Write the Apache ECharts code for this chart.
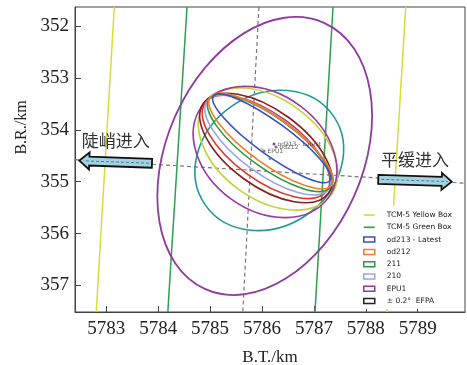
<!DOCTYPE html>
<html>
<head>
<meta charset="utf-8">
<script src="https://cdn.jsdelivr.net/npm/echarts@6/dist/echarts.min.js"></script>
<style>html,body{margin:0;padding:0;background:#fff}#main{width:467px;height:365px}</style>
</head>
<body>
<div id="main"></div>
<script>
// axis ranges and ticks
var xMin = 5782.397, xMax = 5789.911;
var yMin = 351.634, yMax = 357.511;
var xTicks = [5783, 5784, 5785, 5786, 5787, 5788, 5789];
var yTicks = [352, 353, 354, 355, 356, 357];

// TCM-5 box edges (top point, bottom point)
var yellowLeft = [[5783.154, 351.634], [5782.807, 357.511]];
var yellowRight = [[5788.769, 351.634], [5788.410, 357.511]];
var greenLeft = [[5784.555, 351.634], [5784.185, 357.511]];
var greenRight = [[5787.368, 351.634], [5787.021, 357.511]];

// dashed reference lines
var vertRef = [[5785.94, 351.634], [5785.63, 357.511]];
var horizRef = [[5782.40, 354.574], [5789.91, 355.03]];

// dispersion ellipses: centre x, centre y, semi-axis a, semi-axis b, tilt (deg)
var ellipseNames = ['EPU1', 'teal', 'lime', 'EPU1 inner', 'darkred', 'red', '210', '211', 'od212', 'od213 - Latest'];
var ellipseX = [5786.052, 5786.140, 5786.116, 5786.058, 5786.077, 5786.077, 5786.116, 5786.154, 5786.173, 5786.187];
var ellipseY = [354.505, 354.590, 354.370, 354.428, 354.351, 354.331, 354.293, 354.254, 354.216, 354.164];
var ellipseA = [2.809, 1.503, 1.503, 1.503, 1.484, 1.445, 1.445, 1.445, 1.445, 1.387];
var ellipseB = [1.888, 1.272, 0.963, 1.118, 0.732, 0.636, 0.559, 0.482, 0.443, 0.318];
var ellipseTilt = [-66, -35, 36, 36, 36, 36, 36, 36, 36, 36];
var ellipseColors = ['#8e3a9e', '#1f9a98', '#c8cf3c', '#9a3aa2', '#8a1e1e', '#e23232', '#9aa2e6', '#2e9a40', '#f07d28', '#3a4fbf'];

// trajectory solution points
var markNames = ['od213 - Latest', 'od212', 'EPU1', '', ''];
var markX = [5786.231, 5786.270, 5786.039, 5786.000, 5786.154];
var markY = [354.274, 354.331, 354.408, 354.370, 354.553];
var markColors = ['#333a66', '#7a4a30', '#8e3a9e', '#c8cf3c', '#1f9a98'];

// entry arrows: tail and head
var arrowTail = [[5783.88, 354.645], [5788.24, 354.954]];
var arrowHead = [[5782.48, 354.595], [5789.655, 355.0]];
var arrowText = ['陡峭进入', '平缓进入'];

var serif = "Liberation Serif";
var chart = echarts.init(document.getElementById('main'));

function lineSeries(name, pts, color, dashed) {
    return {
        name: name, type: 'line', data: pts, symbol: 'none', silent: true, z: dashed ? 1 : 2,
        lineStyle: {color: color, width: dashed ? 1.2 : 1.5, type: dashed ? [4, 3] : 'solid'}
    };
}

var series = [
    lineSeries('ref-v', vertRef, '#777', true),
    lineSeries('ref-h', horizRef, '#777', true),
    lineSeries('TCM-5 Yellow Box', yellowLeft, '#d6dc3c'),
    lineSeries('TCM-5 Yellow Box', yellowRight, '#d6dc3c'),
    lineSeries('TCM-5 Green Box', greenLeft, '#2f9e4e'),
    lineSeries('TCM-5 Green Box', greenRight, '#2f9e4e')
];

ellipseNames.forEach(function (nm, i) {
    var color = ellipseColors[i];
    series.push({
        name: nm, type: 'custom', z: 3, silent: true,
        encode: {x: 0, y: 1},
        data: [[ellipseX[i], ellipseY[i], ellipseA[i], ellipseB[i], ellipseTilt[i]]],
        renderItem: function (params, api) {
            var cx = api.value(0), cy = api.value(1);
            var c = api.coord([cx, cy]);
            var rx = Math.abs(api.coord([cx + api.value(2), cy])[0] - c[0]);
            var ry = Math.abs(api.coord([cx, cy + api.value(3)])[1] - c[1]);
            return {
                type: 'ellipse', x: c[0], y: c[1], rotation: -api.value(4) * Math.PI / 180,
                shape: {cx: 0, cy: 0, rx: rx, ry: ry},
                style: {fill: 'none', stroke: color, lineWidth: i === 0 ? 1.8 : 1.6}
            };
        }
    });
});

series.push({name: '± 0.2°  EFPA', type: 'custom', data: [], renderItem: function () { return null; }});

series.push({
    name: 'marks', type: 'scatter', z: 5, silent: true, symbolSize: 3,
    data: markX.map(function (x, i) {
        return {value: [x, markY[i]], itemStyle: {color: markColors[i]},
            label: {show: markNames[i] !== '', formatter: markNames[i]}};
    }),
    label: {position: 'right', distance: 2, fontSize: 6, fontFamily: 'DejaVu Sans', color: '#333'}
});

series.push({
    name: 'arrows', type: 'custom', z: 6, silent: true, clip: false,
    encode: {x: 0, y: 1},
    data: arrowTail.map(function (t, i) { return [t[0], t[1], arrowHead[i][0], arrowHead[i][1]]; }),
    renderItem: function (params, api) {
        var p0 = api.coord([api.value(0), api.value(1)]);
        var p1 = api.coord([api.value(2), api.value(3)]);
        var dx = p1[0] - p0[0], dy = p1[1] - p0[1];
        var len = Math.sqrt(dx * dx + dy * dy);
        var ux = dx / len, uy = dy / len, nx = -uy, ny = ux;
        var bh = 4.5, hh = 8.5, hl = 10;
        function pt(s, t) { return [p0[0] + ux * s + nx * t, p0[1] + uy * s + ny * t]; }
        var pts = [pt(0, -bh), pt(len - hl, -bh), pt(len - hl, -hh), pt(len, 0),
                   pt(len - hl, hh), pt(len - hl, bh), pt(0, bh)];
        var m = pt(len / 2, 0);
        return {
            type: 'group',
            children: [
                {type: 'polygon', shape: {points: pts},
                 style: {fill: '#a3d3e0', stroke: '#111', lineWidth: 1.8}},
                {type: 'line', shape: {x1: p0[0] + ux * 3, y1: p0[1] + uy * 3, x2: p0[0] + ux * (len - 4), y2: p0[1] + uy * (len - 4)},
                 style: {stroke: '#4a7a9a', lineWidth: 1, lineDash: [3, 2]}},
                {type: 'text', x: m[0], y: m[1] - 21,
                 style: {text: arrowText[params.dataIndex], fill: '#333', fontSize: 17,
                         fontFamily: 'Noto Sans CJK SC', align: 'center', verticalAlign: 'middle'}}
            ]
        };
    }
});

function legendLine(name, color) {
    return {name: name, icon: 'path://M0,0H20V3H0Z', itemStyle: {color: color, borderWidth: 0}};
}
function legendRect(name, color) {
    return {name: name, icon: 'rect', itemStyle: {color: '#fff', borderColor: color, borderWidth: 1.5}};
}

chart.setOption({
    animation: false,
    textStyle: {fontFamily: serif},
    grid: {left: 75, right: 2, top: 7, bottom: 53, show: true, borderColor: '#444', borderWidth: 1,
           containLabel: false, outerBoundsMode: 'none'},
    legend: {
        orient: 'vertical', left: 358, top: 206, backgroundColor: '#fff', padding: [5, 4, 4, 5],
        itemWidth: 11, itemHeight: 5, itemGap: 4.3, selectedMode: false,
        textStyle: {fontFamily: 'DejaVu Sans', fontSize: 7.5, color: '#222', padding: [0, 0, 0, 7]},
        data: [
            legendLine('TCM-5 Yellow Box', '#d6dc3c'),
            legendLine('TCM-5 Green Box', '#2f9e4e'),
            legendRect('od213 - Latest', '#3a4fbf'),
            legendRect('od212', '#f07d28'),
            legendRect('211', '#2e9a40'),
            legendRect('210', '#9aa2e6'),
            legendRect('EPU1', '#8e3a9e'),
            legendRect('± 0.2°  EFPA', '#222')
        ]
    },
    xAxis: {
        type: 'value', min: xMin, max: xMax, splitLine: {show: false},
        axisLine: {onZero: false, lineStyle: {color: '#444'}},
        axisTick: {inside: true, length: 6, customValues: xTicks, lineStyle: {color: '#444'}},
        axisLabel: {customValues: xTicks, margin: 8, fontFamily: serif, fontSize: 19, color: '#222',
                    formatter: function (v) { return String(v); }},
        name: 'B.T./km', nameLocation: 'middle', nameGap: 37, nameMoveOverlap: false,
        nameTextStyle: {fontFamily: serif, fontSize: 17, color: '#222'}
    },
    yAxis: {
        type: 'value', min: yMin, max: yMax, inverse: true, splitLine: {show: false},
        axisLine: {onZero: false, lineStyle: {color: '#444'}},
        axisTick: {inside: true, length: 6, customValues: yTicks, lineStyle: {color: '#444'}},
        axisLabel: {customValues: yTicks, margin: 6, fontFamily: serif, fontSize: 19, color: '#222',
                    formatter: function (v) { return String(v); }},
        name: 'B.R./km', nameLocation: 'middle', nameGap: 32, nameRotate: 90,
        nameTextStyle: {fontFamily: serif, fontSize: 16, color: '#222', padding: [0, 0, 0, 64]}
    },
    series: series
});
</script>
</body>
</html>
